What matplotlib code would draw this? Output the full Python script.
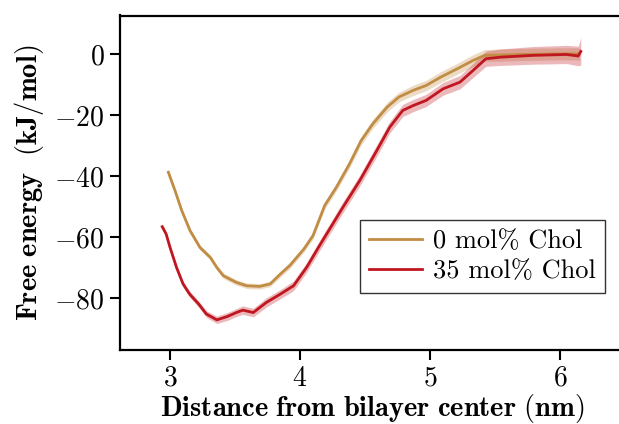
import matplotlib
matplotlib.use("Agg")
import matplotlib.pyplot as plt
import numpy as np

plt.rcParams["font.family"] = "cmr10"
plt.rcParams["mathtext.fontset"] = "cm"
plt.rcParams["axes.formatter.use_mathtext"] = True

# Free energy profiles (kJ/mol) vs distance from bilayer center (nm)
dist_0 = [2.987, 3.038, 3.09, 3.154, 3.23, 3.31, 3.36, 3.41, 3.51, 3.59, 3.69,
          3.77, 3.85, 3.92, 4.03, 4.10, 4.15, 4.19, 4.28, 4.38, 4.47, 4.56, 4.67,
          4.76, 4.87, 4.97, 5.08, 5.21, 5.33, 5.42, 5.55, 5.70, 5.85, 6.00, 6.15]
fe_0 = [-38.7, -44.7, -51.3, -57.9, -63.4, -66.7, -70.0, -72.7, -74.9, -76.0, -76.2,
        -75.4, -72.1, -69.4, -63.9, -59.5, -54.0, -49.6, -43.6, -36.0, -28.3, -22.8, -17.3,
        -14.0, -11.8, -10.2, -7.5, -4.7, -2.0, -0.3, -0.2, 0.0, 0.1, 0.2, 0.2]
err_0 = [0.8, 0.8, 0.8, 0.8, 0.8, 0.8, 0.8, 0.9, 0.9, 0.9, 0.9,
         0.9, 1.0, 1.0, 1.0, 1.1, 1.1, 1.2, 1.2, 1.3, 1.4, 1.5, 1.6,
         1.6, 1.7, 1.7, 1.8, 1.8, 1.9, 1.9, 2.0, 2.0, 2.0, 2.0, 2.0]

dist_35 = [2.94, 2.97, 3.0, 3.05, 3.10, 3.15, 3.22, 3.28, 3.36, 3.44, 3.51, 3.56,
           3.64, 3.74, 3.85, 3.95, 4.05, 4.15, 4.22, 4.33, 4.46, 4.59, 4.69, 4.79,
           4.87, 4.97, 5.10, 5.23, 5.33, 5.43, 5.54, 5.79, 6.05, 6.14, 6.16]
fe_35 = [-56.6, -59.0, -63.4, -70.0, -75.4, -78.7, -82.0, -85.3, -87.2, -86.1, -84.8, -84.0,
         -84.8, -81.5, -78.7, -76.0, -70.0, -62.8, -57.9, -50.2, -41.4, -31.6, -23.9, -18.4,
         -16.8, -15.1, -11.3, -9.1, -5.3, -1.4, -0.9, -0.3, 0.0, -0.5, 1.0]
err_35 = [0.8, 0.8, 0.8, 0.9, 0.9, 1.0, 1.0, 1.1, 1.2, 1.3, 1.3, 1.4,
          1.4, 1.5, 1.5, 1.6, 1.6, 1.7, 1.7, 1.8, 1.8, 1.9, 1.9, 2.0,
          2.0, 2.0, 2.1, 2.2, 2.3, 2.5, 2.7, 2.9, 3.0, 3.2, 4.5]

labels = ["0 mol% Chol", "35 mol% Chol"]
colors = ["#c18c44", "#c0161f"]

fig = plt.figure(figsize=(6.19, 4.24), dpi=100)
ax = fig.add_axes([120 / 619, 1 - 350 / 424, 505 / 619, (350 - 15.5) / 424])

for d, f, e, lab, c in [(dist_0, fe_0, err_0, labels[0], colors[0]),
                        (dist_35, fe_35, err_35, labels[1], colors[1])]:
    d = np.array(d); f = np.array(f); e = np.array(e)
    ax.fill_between(d, f - e, f + e, color=c, alpha=0.3, lw=0)
    ax.plot(d, f, color=c, lw=2.0, label=lab, solid_joinstyle="round")

ax.set_xlim(2.615, 6.5)
ax.set_ylim(-97.1, 12.8)
ax.set_xticks([3, 4, 5, 6])
ax.set_yticks([0, -20, -40, -60, -80])

for s in ax.spines.values():
    s.set_linewidth(1.6)
ax.tick_params(width=1.5, length=7, labelsize=20, pad=4)

ax.set_xlabel(r"$\mathbf{Distance\ from\ bilayer\ center\ (nm)}$", fontsize=20.5, labelpad=0)
ax.set_ylabel(r"$\mathbf{Free\ energy\ \ (kJ/mol)}$", fontsize=20.5, labelpad=6)

leg = ax.legend(loc="upper left", bbox_to_anchor=(240 / 505, 1 - (220 - 15.5) / 334.5),
                borderaxespad=0, fontsize=19, fancybox=False, edgecolor="#333333",
                framealpha=1, handlelength=2.0, handletextpad=0.4, borderpad=0.35,
                labelspacing=0.25)
leg.get_frame().set_linewidth(1.0)

fig.savefig("out.png", dpi=100)
